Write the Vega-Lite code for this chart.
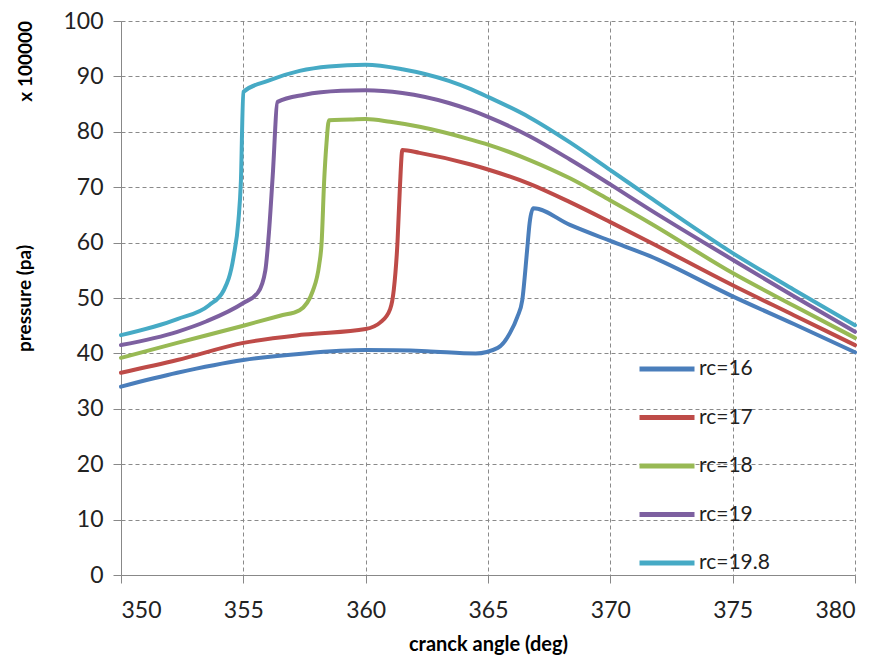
{
  "$schema": "https://vega.github.io/schema/vega-lite/v6.json",
  "width": 734,
  "height": 554,
  "autosize": {"type": "none"},
  "padding": {"left": 121, "top": 21, "right": 24, "bottom": 84},
  "background": "white",
  "title": {"text": "x 100000", "orient": "left", "anchor": "end", "font": "Lato", "fontSize": 19, "fontWeight": "bold", "color": "#000", "offset": -20, "frame": "group"},
  "data": {"values": [
    {"s":"rc=16","x":350,"y":34.0},{"s":"rc=16","x":352.3,"y":36.5},{"s":"rc=16","x":355,"y":38.8},{"s":"rc=16","x":357.5,"y":40.0},{"s":"rc=16","x":360,"y":40.6},{"s":"rc=16","x":362.5,"y":40.4},{"s":"rc=16","x":364.5,"y":40.0},{"s":"rc=16","x":365.4,"y":41.0},{"s":"rc=16","x":365.9,"y":43.7},{"s":"rc=16","x":366.2,"y":46.6},{"s":"rc=16","x":366.4,"y":49.6},{"s":"rc=16","x":366.6,"y":58.7},{"s":"rc=16","x":366.7,"y":63.5},{"s":"rc=16","x":366.85,"y":66.2},{"s":"rc=16","x":368.35,"y":63.2},{"s":"rc=16","x":370,"y":60.3},{"s":"rc=16","x":371.6,"y":57.6},{"s":"rc=16","x":375,"y":50.3},{"s":"rc=16","x":377.5,"y":45.3},{"s":"rc=16","x":380,"y":40.2},
    {"s":"rc=17","x":350,"y":36.5},{"s":"rc=17","x":352.3,"y":38.8},{"s":"rc=17","x":355,"y":41.9},{"s":"rc=17","x":357.5,"y":43.4},{"s":"rc=17","x":360,"y":44.4},{"s":"rc=17","x":360.6,"y":45.6},{"s":"rc=17","x":361.0,"y":48.0},{"s":"rc=17","x":361.15,"y":51.5},{"s":"rc=17","x":361.3,"y":60},{"s":"rc=17","x":361.4,"y":70},{"s":"rc=17","x":361.5,"y":76.7},{"s":"rc=17","x":362.2,"y":76.2},{"s":"rc=17","x":364.3,"y":74.1},{"s":"rc=17","x":365,"y":73.2},{"s":"rc=17","x":366.7,"y":70.6},{"s":"rc=17","x":368.35,"y":67.3},{"s":"rc=17","x":370,"y":63.7},{"s":"rc=17","x":371.6,"y":60.1},{"s":"rc=17","x":375,"y":52.3},{"s":"rc=17","x":377.5,"y":46.9},{"s":"rc=17","x":380,"y":41.5},
    {"s":"rc=18","x":350,"y":39.2},{"s":"rc=18","x":352.3,"y":41.9},{"s":"rc=18","x":355,"y":45.0},{"s":"rc=18","x":356.5,"y":46.8},{"s":"rc=18","x":357.3,"y":47.8},{"s":"rc=18","x":357.85,"y":51.4},{"s":"rc=18","x":358.1,"y":56},{"s":"rc=18","x":358.2,"y":60},{"s":"rc=18","x":358.3,"y":70.8},{"s":"rc=18","x":358.4,"y":78},{"s":"rc=18","x":358.5,"y":82.1},{"s":"rc=18","x":359.4,"y":82.2},{"s":"rc=18","x":360,"y":82.3},{"s":"rc=18","x":361,"y":81.8},{"s":"rc=18","x":362.2,"y":80.9},{"s":"rc=18","x":364.3,"y":78.6},{"s":"rc=18","x":365,"y":77.7},{"s":"rc=18","x":366.7,"y":74.9},{"s":"rc=18","x":368.35,"y":71.6},{"s":"rc=18","x":370,"y":67.6},{"s":"rc=18","x":371.6,"y":63.6},{"s":"rc=18","x":375,"y":54.5},{"s":"rc=18","x":377.5,"y":48.6},{"s":"rc=18","x":380,"y":42.8},
    {"s":"rc=19","x":350,"y":41.5},{"s":"rc=19","x":352.3,"y":43.9},{"s":"rc=19","x":353.5,"y":45.8},{"s":"rc=19","x":355,"y":49.1},{"s":"rc=19","x":355.6,"y":51.0},{"s":"rc=19","x":355.9,"y":55},{"s":"rc=19","x":356.05,"y":62},{"s":"rc=19","x":356.2,"y":72},{"s":"rc=19","x":356.4,"y":85.4},{"s":"rc=19","x":357.5,"y":86.7},{"s":"rc=19","x":359,"y":87.4},{"s":"rc=19","x":360,"y":87.5},{"s":"rc=19","x":361.5,"y":87.0},{"s":"rc=19","x":363.4,"y":85.2},{"s":"rc=19","x":364.3,"y":83.9},{"s":"rc=19","x":365,"y":82.7},{"s":"rc=19","x":366.7,"y":79.2},{"s":"rc=19","x":368.35,"y":75.0},{"s":"rc=19","x":370,"y":70.5},{"s":"rc=19","x":371.6,"y":66.0},{"s":"rc=19","x":375,"y":56.9},{"s":"rc=19","x":377.5,"y":50.3},{"s":"rc=19","x":380,"y":43.9},
    {"s":"rc=19.8","x":350,"y":43.3},{"s":"rc=19.8","x":352.3,"y":46.2},{"s":"rc=19.8","x":353.6,"y":48.7},{"s":"rc=19.8","x":354.2,"y":51.4},{"s":"rc=19.8","x":354.6,"y":57.4},{"s":"rc=19.8","x":354.8,"y":64},{"s":"rc=19.8","x":354.9,"y":71},{"s":"rc=19.8","x":355.0,"y":87.2},{"s":"rc=19.8","x":356.0,"y":89.2},{"s":"rc=19.8","x":357.3,"y":91.0},{"s":"rc=19.8","x":358.5,"y":91.8},{"s":"rc=19.8","x":360,"y":92.1},{"s":"rc=19.8","x":361.5,"y":91.3},{"s":"rc=19.8","x":363.4,"y":89.2},{"s":"rc=19.8","x":364.3,"y":87.7},{"s":"rc=19.8","x":365,"y":86.3},{"s":"rc=19.8","x":366.7,"y":82.6},{"s":"rc=19.8","x":368.35,"y":78.1},{"s":"rc=19.8","x":370,"y":73.1},{"s":"rc=19.8","x":371.6,"y":68.2},{"s":"rc=19.8","x":375,"y":58.1},{"s":"rc=19.8","x":377.5,"y":51.5},{"s":"rc=19.8","x":380,"y":45.1}
  ]},
  "mark": {"type": "line", "strokeWidth": 4, "interpolate": "monotone", "strokeCap": "round", "strokeJoin": "round"},
  "encoding": {
    "x": {"field": "x", "type": "quantitative", "scale": {"domain": [350, 380], "nice": false, "zero": false},
      "axis": {"values": [350,355,360,365,370,375,380], "title": "cranck angle (deg)", "titleFontWeight": "bold", "titleFont": "Lato", "titleFontSize": 20, "titleColor": "#000", "titlePadding": 12,
        "labelFont": "Lato", "labelFontSize": 23, "labelColor": "#222", "labelPadding": 16,
        "domainColor": "#888", "tickColor": "#888", "tickSize": 8, "grid": true, "gridColor": "#8a8a8a", "gridDash": [4, 3], "gridWidth": 1}},
    "y": {"field": "y", "type": "quantitative", "scale": {"domain": [0, 100], "nice": false},
      "axis": {"values": [0,10,20,30,40,50,60,70,80,90,100], "title": "pressure (pa)", "titleFontWeight": "bold", "titleFont": "Lato", "titleFontSize": 19, "titleColor": "#000", "titlePadding": 28,
        "labelFont": "Lato", "labelFontSize": 23, "labelColor": "#222", "labelPadding": 10,
        "domainColor": "#888", "tickColor": "#888", "tickSize": 8, "grid": true, "gridColor": "#8a8a8a", "gridDash": [4, 3], "gridWidth": 1}},
    "color": {"field": "s", "type": "nominal",
      "scale": {"domain": ["rc=16","rc=17","rc=18","rc=19","rc=19.8"], "range": ["#4A7EBB","#BE4B48","#98B954","#7D60A0","#46AAC5"]},
      "legend": {"title": null, "orient": "none", "legendX": 516, "legendY": 318, "symbolType": "stroke", "symbolSize": 3025, "symbolStrokeWidth": 5,
        "labelFont": "Lato", "labelFontSize": 21, "labelColor": "#222", "rowPadding": 8.5, "labelOffset": 2}}
  },
  "config": {"view": {"stroke": null}}
}
